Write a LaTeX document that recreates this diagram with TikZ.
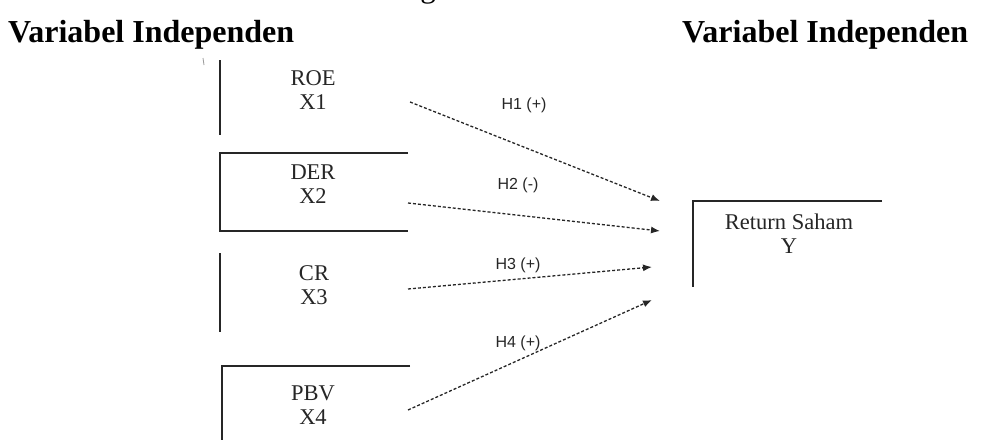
\documentclass[tikz,border=0pt]{standalone}
\usepackage{fontspec}
\setmainfont{Liberation Serif}
\newfontfamily\labfont{Liberation Sans}
\usetikzlibrary{arrows.meta}
\begin{document}
\begin{tikzpicture}[x=1pt,y=-1pt,
  boxline/.style={line width=1.5pt, black!85},
  vtext/.style={font=\fontsize{22.5}{24}\selectfont, align=center, text=black!85, inner sep=0},
  titletext/.style={font=\bfseries\fontsize{32}{36}\selectfont, anchor=base west, inner sep=0},
  hlab/.style={font=\labfont\fontsize{16}{18}\selectfont, text=black!85, inner sep=0},
  rel/.style={dash pattern=on 3pt off 2pt, line width=1.3pt, black!85, -{Latex[length=9pt,width=7pt]}}]
\useasboundingbox (0,0) rectangle (982,439);
% partial title above (only the descender shows)
\begin{scope}
  \clip (400,0) rectangle (460,5);
  \node[font=\fontsize{31}{36}\selectfont, anchor=base, inner sep=0] (gtop) at (428,-2) {g};
\end{scope}
% titles
\node[titletext] (tl) at (8,42) {Variabel Independen};
\node[titletext] (tr) at (682,42) {Variabel Independen};
% small mark
\draw[black!40, line width=0.8pt] (203,58) -- (204,65);
% box 1 ROE
\draw[boxline] (220,60) -- (220,135);
\node[vtext] (roe) at (313,90) {ROE\\X1};
% box 2 DER
\draw[boxline] (408,153) -- (220,153) -- (220,231) -- (408,231);
\node[vtext] (der) at (313,184) {DER\\X2};
% box 3 CR
\draw[boxline] (220,253) -- (220,332);
\node[vtext] (cr) at (314,285) {CR\\X3};
% box 4 PBV
\draw[boxline] (410,366) -- (222,366) -- (222,440);
\node[vtext] (pbv) at (313,405) {PBV\\X4};
% box Y
\draw[boxline] (882,201) -- (693,201) -- (693,287);
\node[vtext] (ret) at (789,234) {Return Saham\\Y};
% arrows
\coordinate (s1) at (410,102); \coordinate (t1) at (660,201);
\coordinate (s2) at (408,203); \coordinate (t2) at (660,231);
\coordinate (s3) at (408,289); \coordinate (t3) at (652,267);
\coordinate (s4) at (408,410); \coordinate (t4) at (652,300);
\draw[rel] (s1) -- (t1);
\draw[rel] (s2) -- (t2);
\draw[rel] (s3) -- (t3);
\draw[rel] (s4) -- (t4);
% labels
\node[hlab] (h1) at (524,105) {H1 (+)};
\node[hlab] (h2) at (518,185) {H2 (-)};
\node[hlab] (h3) at (518,265) {H3 (+)};
\node[hlab] (h4) at (518,343) {H4 (+)};
\end{tikzpicture}
\end{document}
